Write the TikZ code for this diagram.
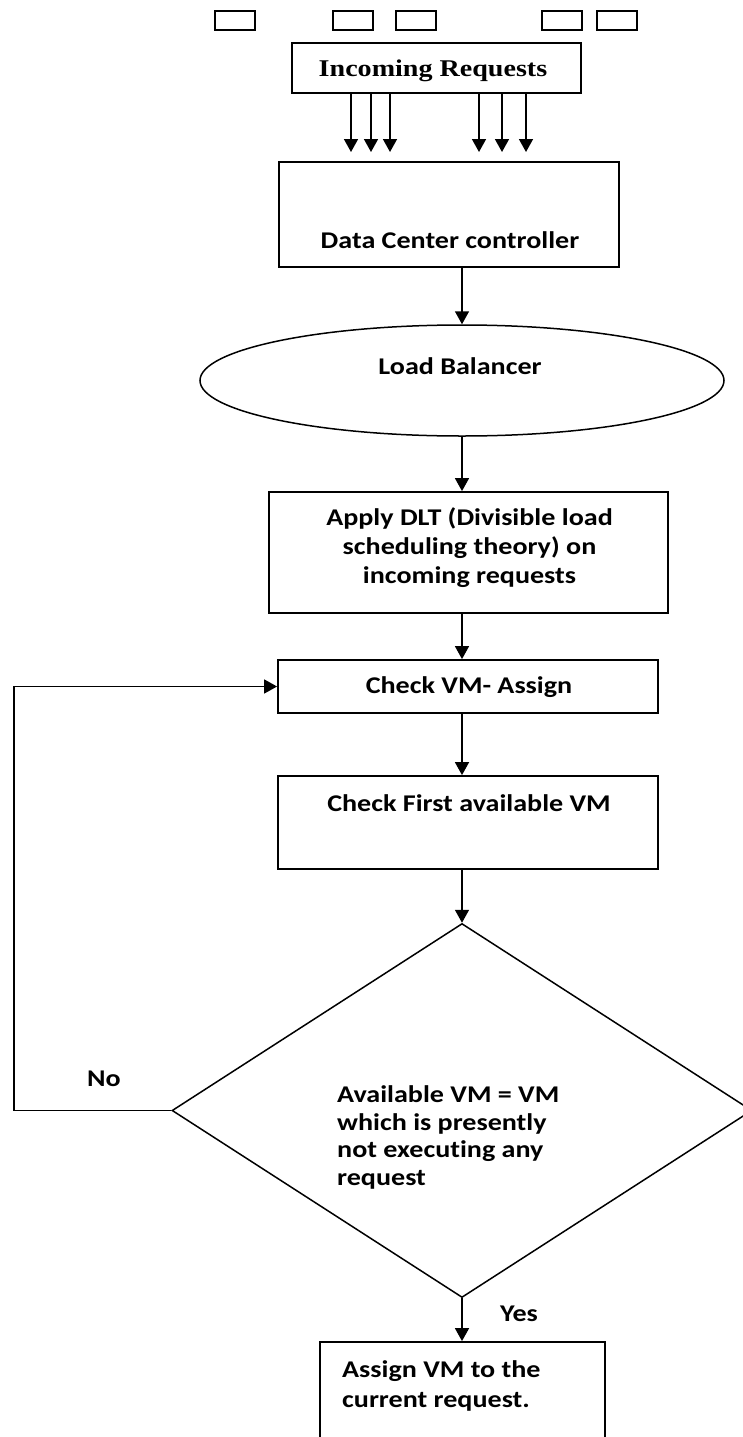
\documentclass[tikz,border=0pt]{standalone}
\usepackage{fontspec}
\usetikzlibrary{arrows.meta,shapes.geometric}
\newfontfamily\cbf{Carlito}[FakeStretch=1.17,Ligatures=NoCommon]
\newfontfamily\tnr{Liberation Serif}[FakeStretch=1.17]
\tikzset{
  frame/.style={draw, line width=1.8pt, inner sep=0pt},
  thinframe/.style={draw, line width=1.5pt, inner sep=0pt},
  lbl/.style={font=\cbf\bfseries\fontsize{24}{29}\selectfont, inner sep=0pt, anchor=base},
  arr/.style={line width=1.6pt, -{Triangle[width=14pt,length=13pt]}},
}
\begin{document}
\begin{tikzpicture}[x=1pt,y=-1pt]
\useasboundingbox (0,0) rectangle (743,1437);
\clip (0,0) rectangle (743,1437);

% small request boxes
\foreach \i/\cx in {1/235,2/353,3/416,4/562,5/617}
  \node[frame, minimum width=40pt, minimum height=19pt] (s\i) at (\cx,20.5) {};

% incoming requests
\node[frame, minimum width=289pt, minimum height=50pt] (inc) at (436.5,68) {};
\node[font=\tnr\bfseries\fontsize{24}{29}\selectfont, inner sep=0pt, anchor=base] (inct) at (433,77) {Incoming Requests};

% data center controller
\node[frame, minimum width=340pt, minimum height=105pt] (dc) at (449,214.5) {};
\node[lbl] (dct) at (450,248) {Data Center controller};

\foreach \i/\tx in {1/351,2/371,3/390,4/479,5/502,6/526}{
  \coordinate (t\i) at (\tx,152);
  \draw[arr] (inc.south -| t\i) -- (t\i);
}

\coordinate (col) at (462,0);

% load balancer
\node[thinframe, ellipse, minimum width=524pt, minimum height=111pt] (lb) at (462,380.5) {};
\node[lbl] (lbt) at (460,374) {Load Balancer};

% DLT
\node[frame, minimum width=399pt, minimum height=121pt] (dlt) at (468.5,552.5) {};
\node[lbl, align=center] (dltt) at (469.5,583) {Apply DLT (Divisible load\\scheduling theory) on\\incoming requests};

% check VM assign
\node[frame, minimum width=380pt, minimum height=53pt] (chk) at (468,686.5) {};
\node[lbl] (chkt) at (469,693) {Check VM- Assign};

% check first available
\node[frame, minimum width=380pt, minimum height=93pt] (cfa) at (468,822.5) {};
\node[lbl] (cfat) at (469,811) {Check First available VM};

% decision
\node[thinframe, diamond, minimum width=580pt, minimum height=374pt] (dia) at (462,1110.5) {};
\node[font=\cbf\bfseries\fontsize{24}{27.4}\selectfont, inner sep=0pt, anchor=base west, align=left] (diat) at (337,1185) {Available VM = VM\\which is presently\\not executing any\\request};

% assign
\node[frame, minimum width=285pt, minimum height=120pt] (asg) at (462.5,1402) {};
\node[lbl, anchor=base west, align=left, font=\cbf\bfseries\fontsize{24}{30}\selectfont] (asgt) at (342,1407) {Assign VM to the\\current request.};

% connectors
\draw[arr] (dc.south -| col) -- (lb.north -| col);
\draw[arr] (lb.south -| col) -- (dlt.north -| col);
\draw[arr] (dlt.south -| col) -- (chk.north -| col);
\draw[arr] (chk.south -| col) -- (cfa.north -| col);
\draw[arr] (cfa.south -| col) -- (dia.north);
\draw[arr] (dia.south) -- (asg.north -| dia.south);

\coordinate (lp) at (14,1110.5);
\draw[arr] (dia.west) -- (lp) |- (chk.west);

\node[lbl, anchor=base west] (no) at (87,1086) {No};
\node[lbl, anchor=base west] (yes) at (500,1321) {Yes};
\end{tikzpicture}
\end{document}
